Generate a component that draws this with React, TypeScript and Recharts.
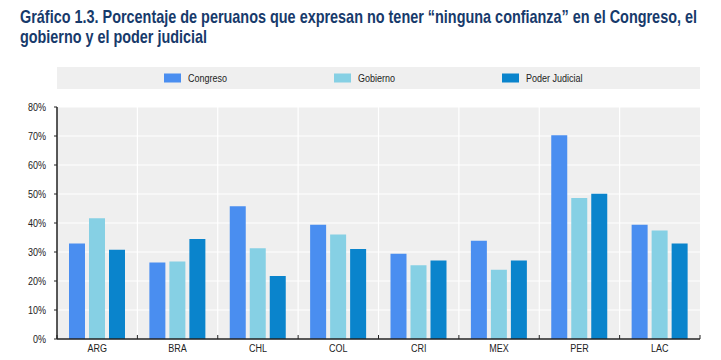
import React from 'react';
import { BarChart, Bar, XAxis, YAxis, CartesianGrid } from 'recharts';

const countries = ['ARG', 'BRA', 'CHL', 'COL', 'CRI', 'MEX', 'PER', 'LAC'];
const congreso = [32.9, 26.4, 45.8, 39.4, 29.4, 33.9, 70.3, 39.4];
const gobierno = [41.6, 26.7, 31.3, 36.0, 25.4, 23.9, 48.6, 37.4];
const poderJudicial = [30.8, 34.5, 21.7, 31.0, 27.1, 27.1, 50.1, 32.9];
const yTicks = [0, 10, 20, 30, 40, 50, 60, 70, 80];

const titleLines = [
  'Gráfico 1.3. Porcentaje de peruanos que expresan no tener “ninguna confianza” en el Congreso, el',
  'gobierno y el poder judicial',
];

const SERIES = [
  { key: 'congreso', name: 'Congreso', color: '#4a8ef0' },
  { key: 'gobierno', name: 'Gobierno', color: '#86d0e4' },
  { key: 'poderJudicial', name: 'Poder Judicial', color: '#0a84cc' },
];

const data = countries.map((c, i) => ({
  name: c,
  congreso: congreso[i],
  gobierno: gobierno[i],
  poderJudicial: poderJudicial[i],
}));

const FONT = "'Liberation Sans', Arial, sans-serif";
const SQUEEZE = 0.82; // fake Arial Narrow

function YTick({ x, y, payload }: any) {
  return (
    <g transform={`translate(${x},${y}) scale(${SQUEEZE},1)`}>
      <text textAnchor="end" dy="0.355em" fontSize={11} fontFamily={FONT} fill="#222">
        {`${payload.value}%`}
      </text>
    </g>
  );
}

function XTick({ x, y, payload, index, width, visibleTicksCount }: any) {
  const half = width / visibleTicksCount / 2;
  const axisY = y - 5;
  return (
    <g>
      <line x1={x - half} x2={x - half} y1={axisY} y2={axisY - 4} stroke="#222" strokeWidth={1} />
      {index === visibleTicksCount - 1 && (
        <line x1={x + half} x2={x + half} y1={axisY} y2={axisY - 4} stroke="#222" strokeWidth={1} />
      )}
      <g transform={`translate(${x},${y}) scale(${SQUEEZE},1)`}>
        <text textAnchor="middle" dy="0.71em" fontSize={11} fontFamily={FONT} fill="#222">
          {payload.value}
        </text>
      </g>
    </g>
  );
}

export default function App() {
  return (
    <div style={{ position: 'relative', width: 721, height: 360, background: '#fff' }}>
      <style>{'body{margin:0}'}</style>

      <div style={{ position: 'absolute', left: 0, top: 0 }}>
        <BarChart
          width={721}
          height={360}
          data={data}
          margin={{ top: 107, right: 21, left: 7, bottom: 1 }}
          barCategoryGap={12}
          barGap={4}
        >
          <CartesianGrid
            fill="#efefef"
            stroke="#ffffff"
            strokeWidth={1.2}
            verticalCoordinatesGenerator={({ offset }: any) =>
              countries.slice(1).map((_, i) => offset.left + ((i + 1) * offset.width) / countries.length)
            }
          />
          <XAxis
            dataKey="name"
            height={20}
            tick={<XTick />}
            tickLine={false}
            tickSize={0}
            tickMargin={5}
            axisLine={{ stroke: '#222', strokeWidth: 1.5 }}
            interval={0}
          />
          <YAxis
            width={50}
            domain={[0, 80]}
            ticks={yTicks}
            tick={<YTick />}
            tickLine={{ stroke: '#222' }}
            tickSize={3}
            tickMargin={8}
            axisLine={{ stroke: '#222', strokeWidth: 1.5 }}
          />
          {SERIES.map((s) => (
            <Bar key={s.key} dataKey={s.key} name={s.name} fill={s.color} isAnimationActive={false} />
          ))}
        </BarChart>
      </div>

      {/* title and legend */}
      <svg width={721} height={100} style={{ position: 'absolute', left: 0, top: 0 }}>
        <g transform={`translate(20,23) scale(${SQUEEZE},1)`}>
          <text fontSize={18} fontWeight="bold" fontFamily={FONT} fill="#173a6b"
            textLength={677 / SQUEEZE} lengthAdjust="spacingAndGlyphs">
            {titleLines[0]}
          </text>
        </g>
        <g transform={`translate(20,43) scale(${SQUEEZE},1)`}>
          <text fontSize={18} fontWeight="bold" fontFamily={FONT} fill="#173a6b"
            textLength={187 / SQUEEZE} lengthAdjust="spacingAndGlyphs">
            {titleLines[1]}
          </text>
        </g>
        <rect x={57} y={67} width={643} height={22} fill="#efefef" />
        {SERIES.map((s, i) => {
          const lx = [164, 334, 502][i];
          return (
            <g key={s.key}>
              <rect x={lx} y={73.5} width={17} height={9} fill={s.color} />
              <g transform={`translate(${lx + 24},78) scale(${SQUEEZE},1)`}>
                <text dy="0.355em" fontSize={11} fontFamily={FONT} fill="#222">{s.name}</text>
              </g>
            </g>
          );
        })}
      </svg>
    </div>
  );
}
